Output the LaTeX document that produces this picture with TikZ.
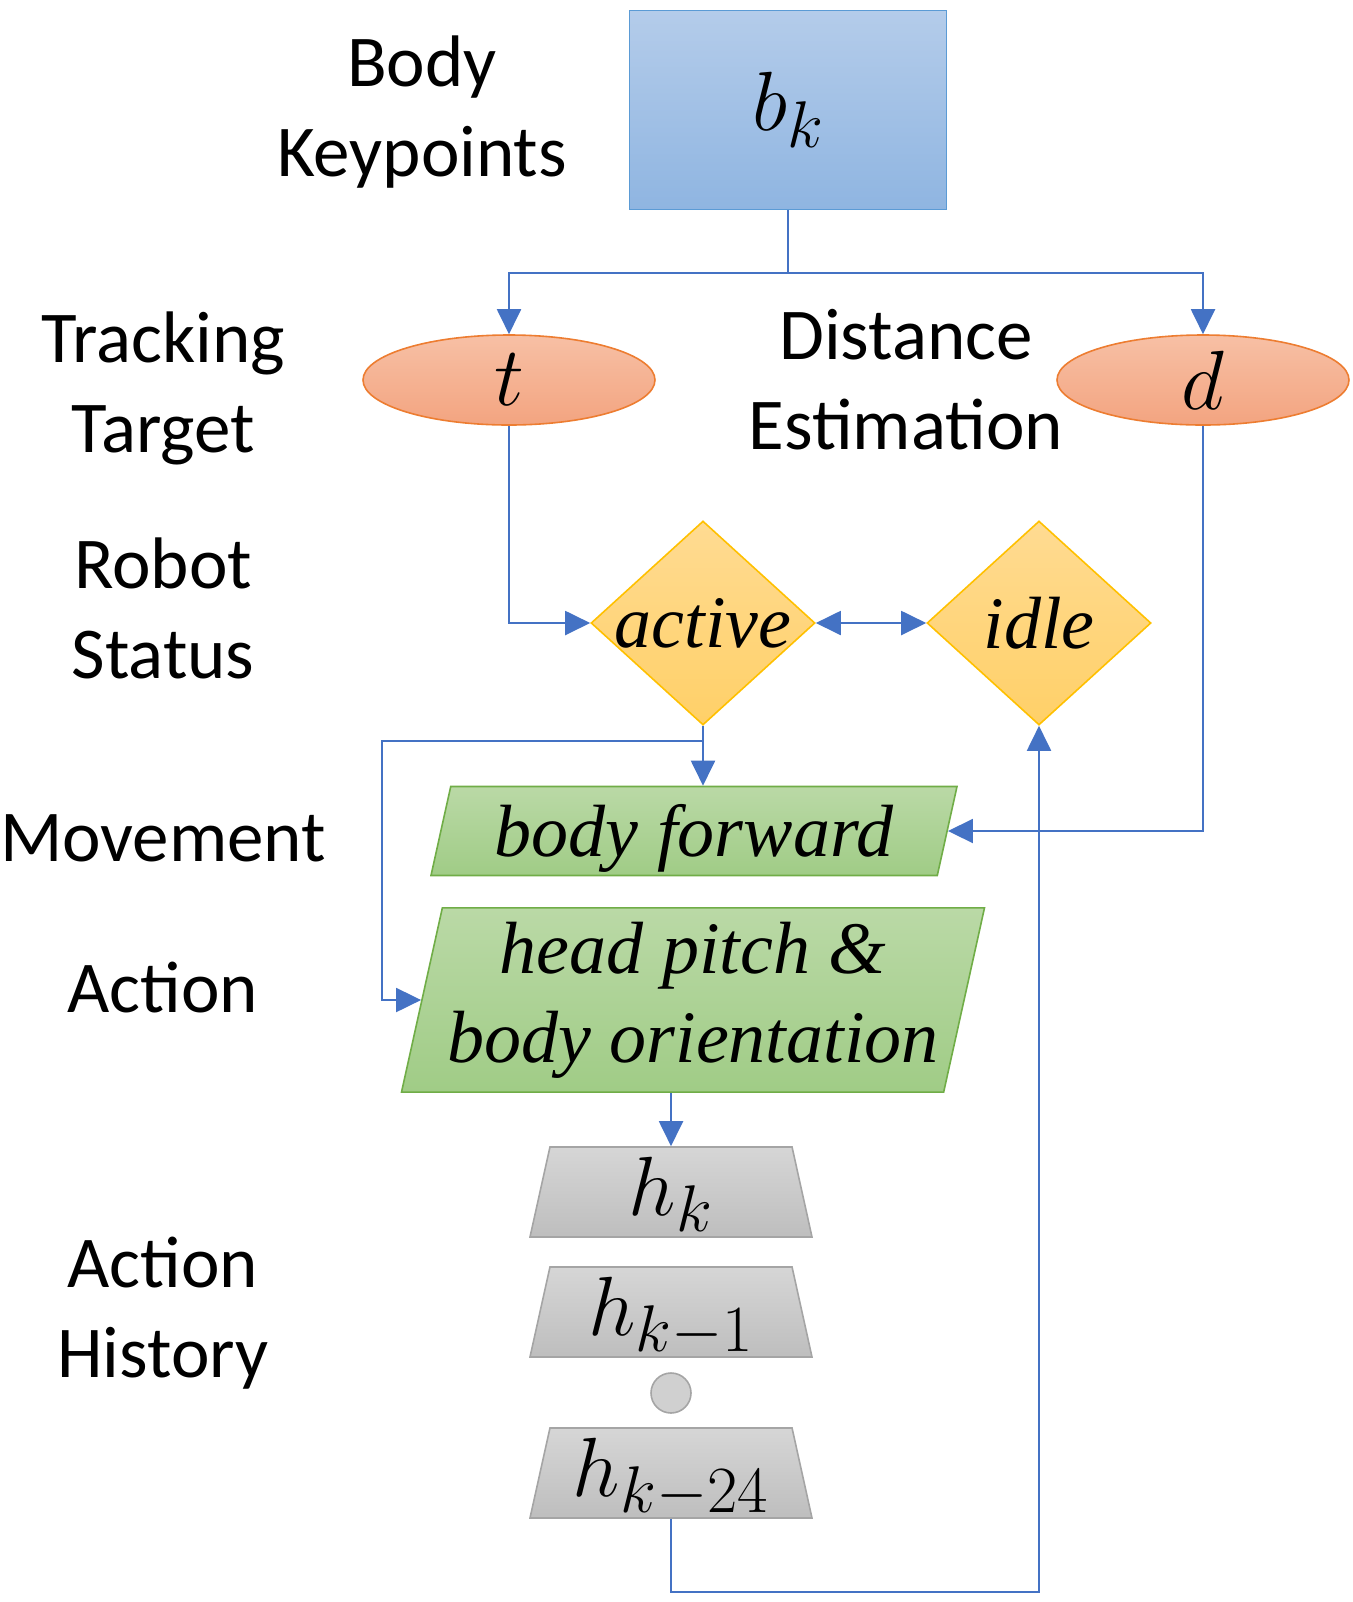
\RequirePackage{fix-cm}
\documentclass[tikz,border=0pt]{standalone}
\usepackage{fontspec}
\usepackage{amsmath}
\usetikzlibrary{shapes.geometric,arrows.meta}
\newfontfamily\labelfont{Carlito}
\newfontfamily\timesfont{Liberation Serif}
\DeclareMathSizes{42}{42}{33}{25}
\definecolor{linkblue}{HTML}{4472C4}
\definecolor{boxline}{HTML}{5B9BD5}
\definecolor{ovalline}{HTML}{ED7D31}
\definecolor{stateline}{HTML}{FFC000}
\definecolor{moveline}{HTML}{70AD47}
\definecolor{histline}{HTML}{A5A5A5}

\begin{document}
\begin{tikzpicture}[x=0.5pt,y=-0.5pt,
  lbl/.style={font=\labelfont\fontsize{36.5}{45}\selectfont,align=center,inner sep=0pt},
  mathbig/.style={font=\fontsize{42}{42}\selectfont},
  link/.style={draw=linkblue,line width=1pt},
  arr/.style={link,-{Triangle[length=12.5pt,width=12pt]}},
  oval/.style={ellipse,draw=ovalline,line width=0.8pt,mathbig,
    top color={rgb,255:red,247;green,192;blue,165},bottom color={rgb,255:red,243;green,164;blue,128},
    minimum width=146pt,minimum height=45pt,inner sep=0pt},
  state/.style={diamond,draw=stateline,line width=0.8pt,
    top color={rgb,255:red,255;green,219;blue,146},bottom color={rgb,255:red,255;green,208;blue,104},
    minimum width=112pt,minimum height=102pt,inner sep=0pt,font=\timesfont\itshape\fontsize{37}{44.5}\selectfont},
  move/.style={trapezium,trapezium left angle=77.5,trapezium right angle=102.5,trapezium stretches body=true,
    draw=moveline,line width=0.8pt,
    top color={rgb,255:red,186;green,217;blue,166},bottom color={rgb,255:red,160;green,204;blue,134},
    inner xsep=0pt,align=center,font=\timesfont\itshape\fontsize{37}{44.5}\selectfont},
  hist/.style={trapezium,trapezium left angle=77.5,trapezium right angle=77.5,trapezium stretches body=true,
    draw=histline,line width=0.8pt,top color={rgb,255:red,214;green,214;blue,214},
    bottom color={rgb,255:red,190;green,190;blue,190},mathbig,
    minimum width=141pt,text height=34pt,text depth=11pt,inner sep=0pt}]
\useasboundingbox (0,0) rectangle (1353,1602);

% row labels
\node[lbl] (lkey) at (422,112) {Body\\Keypoints};
\node[lbl] (ltrack) at (163,388) {Tracking\\Target};
\node[lbl] (ldist) at (906,380) {Distance\\Estimation};
\node[lbl] (lstat) at (163,608) {Robot\\Status};
\node[lbl] (lmove) at (163,838) {Movement};
\node[lbl] (lact) at (163,988) {Action};
\node[lbl] (lhist) at (163,1313) {Action\\History};

% blocks
\node[draw=boxline,line width=0.8pt,mathbig,
  top color={rgb,255:red,180;green,204;blue,234},bottom color={rgb,255:red,143;green,181;blue,225},
  minimum width=158.5pt,minimum height=99.5pt,inner sep=0pt]
  (bk) at (788,110) {$b_k$};
\node[oval] (t) at (509,380) {$t$};
\node[oval] (d) at (1203,380) {$d$};
\node[state] (active) at (703,623) {\makebox[0pt]{active}};
\node[state] (idle) at (1039,623) {\makebox[0pt]{idle}};
\node[move,minimum width=263pt,text height=34.75pt,text depth=9.75pt,inner ysep=0pt] (bf) at (694,831) {body forward};
\node[move,minimum width=291.5pt,inner ysep=7pt] (hp) at (693,1000) {head pitch \&\\body orientation};
\node[hist] (h0) at (671,1192) {$h_k$};
\node[hist] (h1) at (671,1312) {$h_{k-1}$};
\node[circle,draw=histline,line width=0.8pt,fill={rgb,255:red,208;green,208;blue,208},
  minimum size=20pt,inner sep=0pt] (dots) at (671,1393) {};
\node[hist] (h24) at (671,1473) {$h_{k-24}$};

% connectors
\coordinate (fork) at (788,273);
\coordinate (split) at (703,741);
\coordinate (side) at (382,741);
\coordinate (loop) at (1039,1592);
\draw[link] (bk.south) -- (fork);
\draw[arr] (fork) -| (t.north);
\draw[arr] (fork) -| (d.north);
\draw[arr] (t.south) |- (active.west);
\draw[link,{Triangle[length=12.5pt,width=12pt]}-{Triangle[length=12.5pt,width=12pt]}] (active.east) -- (idle.west);
\draw[arr] (d.south) |- (bf.east);
\draw[link] (active.south) -- (split);
\draw[arr] (split) -- (split |- bf.north);
\draw[arr] (split) -- (side) |- (hp.west);
\draw[arr] (hp.south -| h0.north) -- (h0.north);
\draw[arr] (h24.south) |- (loop) -- (idle.south);
\end{tikzpicture}
\end{document}
